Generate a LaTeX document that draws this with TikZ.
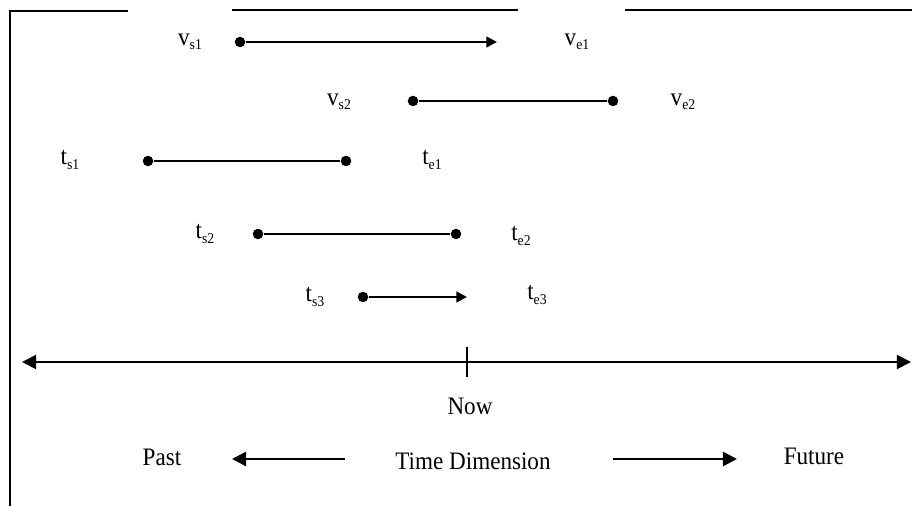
\documentclass[tikz,border=0pt]{standalone}
\usepackage{fontspec}
\setmainfont{Liberation Serif}[FakeStretch=0.92]
\usetikzlibrary{arrows.meta}

\tikzset{
  dot/.style={circle,fill,inner sep=0pt,minimum size=6pt},
  bar/.style={line width=1.4pt},
  tip/.style={-{Triangle[length=6pt,width=6pt]}},
  bigtip/.style={-{Triangle[length=8pt,width=8pt]}},
  frame/.style={line width=1.7pt},
}
\newcommand{\sub}[1]{\raisebox{-0.35ex}{\fontsize{8.5}{9}\selectfont #1}}

\begin{document}
\begin{tikzpicture}[x=0.02cm,y=-0.02cm,font=\fontsize{14.3}{16}\selectfont]
  \useasboundingbox (0,0) rectangle (912,506);
  % frame
  \draw[frame] (10,506) -- (10,11) -- (128,11);
  \draw[frame] (232,10) -- (518,10);
  \draw[frame] (625,10) -- (912,10);

  % valid time
  \node (vs1) at (190,42) {v\sub{s1}};
  \node (ve1) at (577,42) {v\sub{e1}};
  \node[dot] (v1a) at (240,42) {};
  \coordinate (v1b) at (497,42);
  \draw[bar,tip] (v1a) -- (v1b);

  \node (vs2) at (339,102) {v\sub{s2}};
  \node (ve2) at (683,102) {v\sub{e2}};
  \node[dot] (v2a) at (413,101) {};
  \node[dot] (v2b) at (613,101) {};
  \draw[bar] (v2a) -- (v2b);

  % transaction time
  \node (ts1) at (70,160) {t\sub{s1}};
  \node (te1) at (432,160) {t\sub{e1}};
  \node[dot] (t1a) at (148,161) {};
  \node[dot] (t1b) at (346,161) {};
  \draw[bar] (t1a) -- (t1b);

  \node (ts2) at (205,234) {t\sub{s2}};
  \node (te2) at (521,236) {t\sub{e2}};
  \node[dot] (t2a) at (258,234) {};
  \node[dot] (t2b) at (456,234) {};
  \draw[bar] (t2a) -- (t2b);

  \node (ts3) at (315,297) {t\sub{s3}};
  \node (te3) at (537,295) {t\sub{e3}};
  \node[dot] (t3a) at (363,297) {};
  \coordinate (t3b) at (467,297);
  \draw[bar,tip] (t3a) -- (t3b);

  % time axis
  \coordinate (left) at (22,362);
  \coordinate (right) at (911,362);
  \coordinate (now) at (467,362);
  \draw[line width=1.1pt,bigtip] (now) -- (left);
  \draw[line width=1.1pt,bigtip] (now) -- (right);
  \draw[line width=1.1pt] (now) ++(0,-15) -- ++(0,30);
  \node (nowlbl) at (470,406) {Now};

  % direction
  \node (past) at (162,457) {Past};
  \node (dim) at (473,461) {Time Dimension};
  \node (future) at (814,456) {Future};
  \coordinate (pa) at (345,459);
  \coordinate (pb) at (232,459);
  \coordinate (fa) at (613,459);
  \coordinate (fb) at (737,459);
  \draw[bar,bigtip] (pa) -- (pb);
  \draw[bar,bigtip] (fa) -- (fb);
\end{tikzpicture}
\end{document}
